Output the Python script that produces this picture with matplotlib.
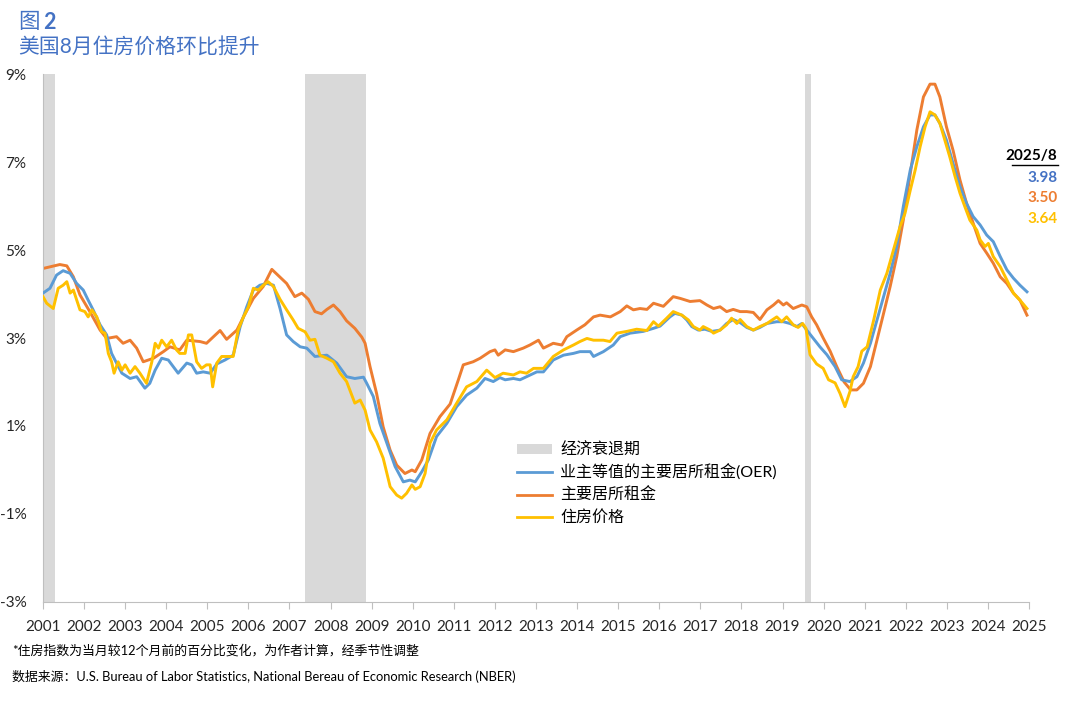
import matplotlib.pyplot as plt
from matplotlib.lines import Line2D
from matplotlib.patches import Patch

plt.rcParams['font.family'] = ['Lato', 'Noto Sans CJK SC', 'DejaVu Sans']

# 主要居所租金
rent_x = [2001.00, 2001.41, 2001.58, 2001.74, 2001.90, 2002.14, 2002.39, 2002.55, 2002.79, 2002.95,
          2003.12, 2003.28, 2003.44, 2003.69, 2003.93, 2004.09, 2004.33, 2004.50, 2004.82, 2004.98,
          2005.31, 2005.47, 2005.72, 2005.88, 2006.12, 2006.36, 2006.57, 2006.93, 2007.13, 2007.30,
          2007.46, 2007.62, 2007.78, 2007.91, 2008.07, 2008.23, 2008.39, 2008.59, 2008.76, 2008.84,
          2008.96, 2009.12, 2009.28, 2009.45, 2009.61, 2009.81, 2009.98, 2010.06, 2010.22, 2010.42,
          2010.66, 2010.91, 2011.11, 2011.23, 2011.47, 2011.64, 2011.88, 2012.00, 2012.08, 2012.25,
          2012.45, 2012.69, 2012.85, 2013.06, 2013.18, 2013.42, 2013.63, 2013.75, 2013.99, 2014.19,
          2014.40, 2014.56, 2014.81, 2015.05, 2015.21, 2015.37, 2015.53, 2015.70, 2015.86, 2016.10,
          2016.34, 2016.51, 2016.75, 2016.99, 2017.16, 2017.32, 2017.48, 2017.64, 2017.80, 2017.97,
          2018.13, 2018.29, 2018.45, 2018.62, 2018.78, 2018.90, 2019.02, 2019.10, 2019.26, 2019.47,
          2019.59, 2019.71, 2019.83, 2019.99, 2020.16, 2020.32, 2020.50, 2020.66, 2020.81, 2020.97,
          2021.14, 2021.30, 2021.46, 2021.62, 2021.78, 2021.94, 2022.11, 2022.27, 2022.43, 2022.59,
          2022.71, 2022.83, 2022.99, 2023.15, 2023.32, 2023.48, 2023.64, 2023.81, 2023.97, 2024.13,
          2024.30, 2024.46, 2024.62, 2024.78, 2024.95]
rent_y = [4.58, 4.67, 4.64, 4.39, 3.98, 3.60, 3.18, 2.99, 3.03, 2.88,
          2.95, 2.77, 2.46, 2.54, 2.69, 2.80, 2.73, 2.95, 2.92, 2.88,
          3.17, 2.97, 3.18, 3.48, 3.90, 4.17, 4.56, 4.24, 3.94, 4.02,
          3.88, 3.60, 3.55, 3.65, 3.75, 3.60, 3.39, 3.22, 3.02, 2.88,
          2.35, 1.74, 0.98, 0.45, 0.11, -0.08, 0.00, -0.04, 0.23, 0.83,
          1.21, 1.50, 2.05, 2.39, 2.46, 2.54, 2.69, 2.73, 2.61, 2.73,
          2.69, 2.77, 2.84, 2.95, 2.77, 2.88, 2.84, 3.03, 3.18, 3.30,
          3.48, 3.52, 3.48, 3.60, 3.73, 3.64, 3.67, 3.65, 3.79, 3.72,
          3.94, 3.90, 3.83, 3.85, 3.75, 3.67, 3.71, 3.60, 3.65, 3.60,
          3.60, 3.58, 3.42, 3.64, 3.75, 3.85, 3.75, 3.80, 3.67, 3.75,
          3.71, 3.48, 3.30, 3.00, 2.70, 2.35, 2.00, 1.82, 1.82, 1.97,
          2.35, 2.95, 3.56, 4.17, 4.85, 5.68, 6.74, 7.73, 8.48, 8.77,
          8.77, 8.48, 7.80, 7.27, 6.59, 6.06, 5.61, 5.15, 4.93, 4.70,
          4.39, 4.24, 4.02, 3.86, 3.52]

# 业主等值的主要居所租金(OER)
oer_x = [2001.00, 2001.17, 2001.33, 2001.49, 2001.66, 2001.82, 2001.98, 2002.10, 2002.22, 2002.39,
         2002.55, 2002.67, 2002.79, 2002.92, 2003.12, 2003.28, 2003.48, 2003.60, 2003.73, 2003.89,
         2004.05, 2004.17, 2004.29, 2004.50, 2004.62, 2004.74, 2004.90, 2005.07, 2005.23, 2005.43,
         2005.63, 2005.80, 2005.96, 2006.12, 2006.28, 2006.45, 2006.61, 2006.77, 2006.93, 2007.09,
         2007.26, 2007.42, 2007.62, 2007.91, 2008.15, 2008.39, 2008.59, 2008.80, 2008.88, 2009.04,
         2009.20, 2009.37, 2009.57, 2009.77, 2009.93, 2010.06, 2010.22, 2010.38, 2010.58, 2010.83,
         2011.07, 2011.31, 2011.56, 2011.76, 2011.96, 2012.12, 2012.25, 2012.45, 2012.61, 2012.77,
         2013.02, 2013.18, 2013.42, 2013.67, 2013.91, 2014.07, 2014.32, 2014.40, 2014.64, 2014.88,
         2015.05, 2015.29, 2015.61, 2015.86, 2016.02, 2016.26, 2016.38, 2016.55, 2016.67, 2016.79,
         2016.95, 2017.11, 2017.28, 2017.48, 2017.64, 2017.80, 2017.97, 2018.13, 2018.29, 2018.45,
         2018.62, 2018.86, 2019.02, 2019.18, 2019.35, 2019.47, 2019.59, 2019.75, 2019.91, 2020.08,
         2020.28, 2020.44, 2020.64, 2020.81, 2020.97, 2021.14, 2021.30, 2021.46, 2021.62, 2021.78,
         2021.94, 2022.11, 2022.27, 2022.43, 2022.59, 2022.71, 2022.83, 2022.99, 2023.15, 2023.32,
         2023.48, 2023.64, 2023.81, 2023.97, 2024.13, 2024.30, 2024.46, 2024.62, 2024.78, 2024.95]
oer_y = [4.02, 4.13, 4.43, 4.53, 4.47, 4.24, 4.09, 3.86, 3.64, 3.30,
         3.07, 2.65, 2.43, 2.20, 2.08, 2.12, 1.86, 1.97, 2.27, 2.54,
         2.50, 2.35, 2.20, 2.43, 2.39, 2.20, 2.23, 2.20, 2.41, 2.50,
         2.61, 3.26, 3.71, 4.09, 4.20, 4.24, 4.20, 3.67, 3.07, 2.92,
         2.80, 2.77, 2.58, 2.61, 2.43, 2.12, 2.08, 2.11, 1.97, 1.67,
         1.06, 0.61, 0.08, -0.27, -0.23, -0.27, -0.04, 0.23, 0.76, 1.06,
         1.44, 1.70, 1.86, 2.08, 2.01, 2.10, 2.05, 2.08, 2.05, 2.12,
         2.23, 2.23, 2.50, 2.61, 2.65, 2.69, 2.69, 2.58, 2.69, 2.84,
         3.03, 3.11, 3.15, 3.22, 3.27, 3.48, 3.56, 3.52, 3.41, 3.26,
         3.18, 3.20, 3.15, 3.18, 3.33, 3.42, 3.35, 3.24, 3.18, 3.24,
         3.33, 3.37, 3.37, 3.33, 3.26, 3.33, 3.18, 2.99, 2.80, 2.62,
         2.35, 2.05, 2.01, 2.12, 2.43, 2.88, 3.41, 3.94, 4.47, 5.08,
         5.99, 6.82, 7.35, 7.80, 8.07, 8.07, 7.88, 7.50, 6.97, 6.44,
         6.06, 5.76, 5.57, 5.34, 5.19, 4.85, 4.55, 4.36, 4.20, 4.05]

# 住房价格
price_x = [2001.00, 2001.09, 2001.25, 2001.37, 2001.49, 2001.58, 2001.66, 2001.74, 2001.90, 2002.02,
           2002.10, 2002.19, 2002.31, 2002.43, 2002.51, 2002.59, 2002.67, 2002.73, 2002.83, 2002.92,
           2003.00, 2003.12, 2003.24, 2003.36, 2003.52, 2003.65, 2003.73, 2003.81, 2003.89, 2004.01,
           2004.13, 2004.25, 2004.33, 2004.46, 2004.54, 2004.62, 2004.74, 2004.86, 2004.98, 2005.07,
           2005.13, 2005.23, 2005.35, 2005.51, 2005.63, 2005.75, 2005.88, 2006.00, 2006.12, 2006.24,
           2006.36, 2006.48, 2006.61, 2006.77, 2006.93, 2007.09, 2007.21, 2007.38, 2007.50, 2007.62,
           2007.74, 2007.91, 2008.07, 2008.23, 2008.39, 2008.59, 2008.72, 2008.84, 2008.96, 2009.12,
           2009.28, 2009.45, 2009.61, 2009.73, 2009.85, 2009.98, 2010.06, 2010.18, 2010.30, 2010.42,
           2010.58, 2010.83, 2011.07, 2011.31, 2011.56, 2011.80, 2012.00, 2012.20, 2012.45, 2012.61,
           2012.77, 2012.94, 2013.18, 2013.42, 2013.67, 2013.91, 2014.07, 2014.24, 2014.40, 2014.64,
           2014.80, 2014.97, 2015.21, 2015.45, 2015.70, 2015.86, 2015.98, 2016.18, 2016.34, 2016.55,
           2016.71, 2016.83, 2016.99, 2017.07, 2017.24, 2017.32, 2017.48, 2017.64, 2017.76, 2017.89,
           2017.97, 2018.13, 2018.29, 2018.45, 2018.62, 2018.86, 2018.98, 2019.10, 2019.26, 2019.38,
           2019.49, 2019.57, 2019.67, 2019.83, 2019.99, 2020.12, 2020.28, 2020.40, 2020.52, 2020.64,
           2020.72, 2020.84, 2020.93, 2021.06, 2021.22, 2021.38, 2021.54, 2021.70, 2021.86, 2021.98,
           2022.11, 2022.23, 2022.35, 2022.47, 2022.59, 2022.71, 2022.83, 2022.95, 2023.07, 2023.20,
           2023.32, 2023.44, 2023.56, 2023.73, 2023.81, 2023.93, 2024.01, 2024.13, 2024.30, 2024.46,
           2024.62, 2024.78, 2024.95]
price_y = [3.94, 3.79, 3.67, 4.13, 4.20, 4.28, 4.02, 4.09, 3.64, 3.60,
           3.48, 3.64, 3.48, 3.14, 3.11, 2.65, 2.46, 2.20, 2.46, 2.27,
           2.39, 2.20, 2.35, 2.20, 1.97, 2.46, 2.88, 2.77, 2.95, 2.80,
           2.95, 2.73, 2.65, 2.65, 3.07, 3.07, 2.46, 2.31, 2.39, 2.39,
           1.89, 2.43, 2.58, 2.58, 2.58, 3.18, 3.48, 3.71, 4.13, 4.09,
           4.20, 4.28, 4.17, 3.88, 3.64, 3.41, 3.22, 3.14, 2.95, 2.97,
           2.61, 2.54, 2.46, 2.20, 2.01, 1.52, 1.59, 1.36, 0.91, 0.64,
           0.27, -0.38, -0.57, -0.64, -0.53, -0.34, -0.44, -0.38, -0.08, 0.61,
           0.91, 1.14, 1.52, 1.89, 2.01, 2.27, 2.10, 2.20, 2.16, 2.23,
           2.20, 2.31, 2.31, 2.58, 2.73, 2.84, 2.92, 2.99, 2.95, 2.95,
           2.92, 3.11, 3.15, 3.20, 3.17, 3.37, 3.27, 3.45, 3.60, 3.52,
           3.41, 3.26, 3.18, 3.26, 3.18, 3.11, 3.18, 3.30, 3.45, 3.33,
           3.42, 3.26, 3.18, 3.26, 3.33, 3.48, 3.37, 3.48, 3.30, 3.24,
           3.33, 3.22, 2.62, 2.41, 2.31, 2.05, 1.98, 1.74, 1.44, 1.78,
           2.12, 2.35, 2.70, 2.80, 3.41, 4.09, 4.47, 5.00, 5.53, 5.83,
           6.36, 6.82, 7.35, 7.80, 8.14, 8.07, 7.88, 7.50, 7.12, 6.67,
           6.29, 5.98, 5.68, 5.45, 5.23, 5.08, 5.15, 4.85, 4.62, 4.32,
           4.02, 3.86, 3.67]

recessions = [(2001.0, 2001.29), (2007.38, 2008.86), (2019.55, 2019.70)]
years = list(range(2001, 2026))
y_ticks = [-3, -1, 1, 3, 5, 7, 9]
latest_label = "2025/8"
latest_values = ["3.98", "3.50", "3.64"]

c_oer = "#5B9BD5"
c_rent = "#ED7D31"
c_price = "#FFC000"
c_gray = "#D9D9D9"
c_title = "#4472C4"

fig = plt.figure(figsize=(10.8, 7.03), dpi=100)
ax = fig.add_axes([0.0398, 0.1437, 0.9130, 0.7510])

for a, b in recessions:
    ax.axvspan(a, b, color=c_gray, lw=0, zorder=0)

ax.plot(oer_x, oer_y, color=c_oer, lw=2.1, zorder=3)
ax.plot(rent_x, rent_y, color=c_rent, lw=2.1, zorder=2)
ax.plot(price_x, price_y, color=c_price, lw=2.1, zorder=4)

ax.set_xlim(2001, 2025)
ax.set_ylim(-3, 9)
ax.set_xticks(years)
ax.set_xticklabels([str(y) for y in years], fontsize=11, color="#262626")
ax.set_yticks(y_ticks)
ax.set_yticklabels(["%d%%" % v for v in y_ticks], fontsize=11, color="#262626")
ax.tick_params(axis="x", length=5, color="#BFBFBF", pad=8)
ax.tick_params(axis="y", length=0, pad=12)
for s in ["top", "right"]:
    ax.spines[s].set_visible(False)
for s in ["left", "bottom"]:
    ax.spines[s].set_color("#BFBFBF")

handles = [Patch(facecolor=c_gray, edgecolor="none"),
           Line2D([], [], color=c_oer, lw=2),
           Line2D([], [], color=c_rent, lw=2),
           Line2D([], [], color=c_price, lw=2)]
labels = ["经济衰退期", "业主等值的主要居所租金(OER)", "主要居所租金", "住房价格"]
ax.legend(handles, labels, loc="upper left", bbox_to_anchor=(0.466, 0.33), frameon=False,
          fontsize=11.5, handlelength=2.2, handleheight=0.6, labelspacing=0.45, handletextpad=0.5)

fig.text(0.017, 0.968, "图", color=c_title, fontsize=15.5, va="center")
fig.text(0.040, 0.968, "2", color=c_title, fontsize=15.5, va="center", fontweight="bold")
fig.text(0.017, 0.932, "美国8月住房价格环比提升", color=c_title, fontsize=15, va="center")

fig.text(0.979, 0.778, latest_label, ha="right", va="center", fontsize=11, fontweight="bold", color="black")
fig.add_artist(Line2D([0.937, 0.980], [0.765, 0.765], color="black", lw=1))
for v, c, yy in zip(latest_values, [c_title, c_rent, c_price], [0.747, 0.718, 0.688]):
    fig.text(0.979, yy, v, ha="right", va="center", fontsize=11, fontweight="bold", color=c)

fig.text(0.011, 0.075, "*住房指数为当月较12个月前的百分比变化，为作者计算，经季节性调整",
         fontsize=9.3, va="center", color="black")
fig.text(0.011, 0.037, "数据来源：U.S. Bureau of Labor Statistics, National Bereau of Economic Research (NBER)",
         fontsize=9.3, va="center", color="black")

fig.savefig("out.png", dpi=100)
